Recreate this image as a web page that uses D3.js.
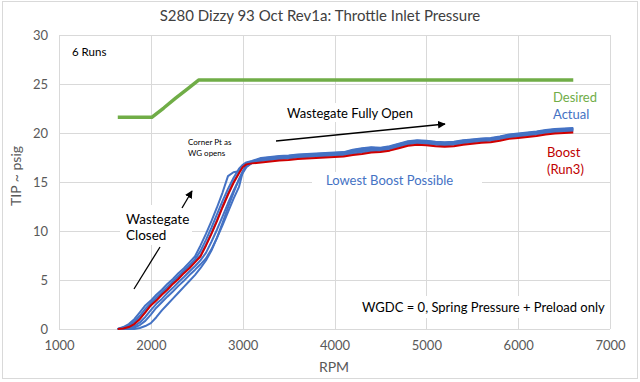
<!DOCTYPE html>
<html><head><meta charset="utf-8">
<script src="https://cdn.jsdelivr.net/npm/d3@7/dist/d3.min.js"></script>
<style>
body{margin:0;background:#fff;}
text{font-family:Lato,"Open Sans",sans-serif;}
</style></head>
<body><svg id="c" width="640" height="382"></svg>
<script>
// ---------- DATA ----------
const xTicks = [1000, 2000, 3000, 4000, 5000, 6000, 7000];
const yTicks = [0, 5, 10, 15, 20, 25, 30];

const desiredRpm = [1640, 2010, 2140, 2270, 2400, 2520, 3000, 4000, 5000, 6000, 6600];
const desired    = [21.6, 21.6, 22.55, 23.55, 24.5, 25.4, 25.4, 25.4, 25.4, 25.4, 25.4];

const rpm = [1640,1700,1760,1820,1880,1940,2000,2060,2120,2180,2240,2300,2360,2420,2480,2540,2600,2660,2720,2780,2840,2900,2960,3000,3040,3100,
  3200,3300,3400,3500,3600,3700,3800,3900,4000,4100,4200,4300,4400,4500,4600,4700,4800,4900,5000,5100,5200,5300,5400,5500,5600,5700,5800,5900,6000,6100,6200,6300,6400,6500,6600];

const boostRun3 = [0,0.05,0.2,0.5,1.0,1.7,2.4,2.9,3.5,4.0,4.6,5.1,5.7,6.2,6.8,7.4,8.5,9.7,11.0,12.4,13.7,14.9,15.9,16.5,16.8,16.9,
  17.0,17.1,17.2,17.25,17.35,17.4,17.45,17.5,17.55,17.6,17.75,17.85,18.0,18.05,18.2,18.45,18.7,18.8,18.75,18.65,18.6,18.65,18.8,18.9,19.0,19.05,19.2,19.4,19.5,19.6,19.7,19.85,19.95,20.0,20.05];

const actualRun1 = [0,0.12,0.35,0.75,1.35,2.05,2.65,3.2,3.75,4.3,4.85,5.4,5.95,6.5,7.1,7.95,9.1,10.35,11.7,13.05,14.3,15.4,16.35,16.75,16.95,17.1,
  17.35,17.45,17.5,17.6,17.7,17.75,17.8,17.85,17.9,17.95,18.15,18.3,18.4,18.4,18.55,18.8,19.05,19.15,19.1,19.0,18.95,19.0,19.15,19.25,19.35,19.4,19.55,19.75,19.85,19.95,20.05,20.2,20.3,20.35,20.4];
const actualRun2 = [0,0,0.1,0.3,0.67,1.23,1.93,2.57,3.07,3.67,4.2,4.77,5.3,5.87,6.4,7.0,7.77,8.9,10.13,11.47,12.83,14.1,15.23,15.9,16.5,16.95,
  17.25,17.35,17.45,17.5,17.6,17.65,17.7,17.75,17.8,17.85,18.05,18.15,18.3,18.3,18.45,18.7,18.95,19.05,19.0,18.9,18.85,18.9,19.05,19.15,19.25,19.3,19.45,19.65,19.75,19.85,19.95,20.1,20.2,20.25,20.3];
const actualRun3 = [0,0.1,0.3,0.6,1.1,1.75,2.5,3.0,3.6,4.1,4.7,5.2,5.8,6.3,6.9,7.5,8.6,9.8,11.1,12.5,13.8,15.0,16.0,16.6,16.9,17.0,
  17.15,17.25,17.35,17.4,17.5,17.55,17.6,17.65,17.7,17.75,17.9,18.0,18.15,18.2,18.35,18.6,18.85,18.95,18.9,18.8,18.75,18.8,18.95,19.05,19.15,19.2,19.35,19.55,19.65,19.75,19.85,20.0,20.1,20.15,20.2];
const actualRun4 = [0,0,0,0.15,0.4,0.83,1.47,2.17,2.73,3.3,3.83,4.4,4.93,5.5,6.03,6.6,7.2,8.13,9.3,10.57,11.93,13.27,14.5,16.0,16.6,16.95,
  17.4,17.5,17.6,17.65,17.75,17.8,17.85,17.9,17.95,18.0,18.25,18.4,18.5,18.45,18.6,18.85,19.1,19.2,19.15,19.05,19.0,19.05,19.2,19.3,19.4,19.45,19.6,19.8,19.9,20.0,20.1,20.25,20.35,20.4,20.45];
const actualRun5 = [0,0,0,0,0.1,0.3,0.6,1.2,1.9,2.5,3.1,3.7,4.3,4.9,5.5,6.2,7.0,8.0,9.3,10.8,12.4,13.9,15.3,16.1,16.7,16.95,
  17.3,17.4,17.5,17.55,17.65,17.7,17.75,17.8,17.85,17.9,18.1,18.25,18.35,18.35,18.5,18.75,19.0,19.1,19.05,18.95,18.9,18.95,19.1,19.2,19.3,19.35,19.5,19.7,19.8,19.9,20.0,20.15,20.25,20.3,20.35];
const actualRun6 = [0,0.2,0.5,1.0,1.7,2.4,2.9,3.5,4.0,4.6,5.1,5.7,6.2,6.8,7.4,8.5,9.7,11.0,12.4,13.9,15.6,16.0,16.1,16.7,17.0,17.15,
  17.45,17.55,17.65,17.7,17.8,17.85,17.9,17.95,18.0,18.05,18.3,18.45,18.55,18.5,18.65,18.9,19.15,19.25,19.2,19.1,19.05,19.1,19.25,19.35,19.45,19.5,19.65,19.85,19.95,20.05,20.15,20.3,20.4,20.45,20.5];
const actualRuns = [actualRun1, actualRun2, actualRun3, actualRun4, actualRun5, actualRun6];

// ---------- CHART ----------
const svg = d3.select("#c");
const x = d3.scaleLinear().domain([1000, 7000]).range([59, 610]);
const y = d3.scaleLinear().domain([0, 30]).range([329, 35]);
const GRID = "#d9d9d9", AXT = "#595959";

svg.append("rect").attr("x", 2.5).attr("y", 1.5).attr("width", 635).attr("height", 377)
  .attr("fill", "#fff").attr("stroke", "#d9d9d9");

// gridlines
const gy = svg.append("g").attr("transform", "translate(59,0)")
  .call(d3.axisLeft(y).tickValues(yTicks).tickSize(-(610 - 59)).tickFormat(""));
const gx = svg.append("g").attr("transform", "translate(0,35)")
  .call(d3.axisBottom(x).tickValues(xTicks).tickSize(329 - 35).tickFormat(""));
[gy, gx].forEach(g => { g.select(".domain").remove(); g.selectAll("line").attr("stroke", GRID).attr("shape-rendering", "crispEdges"); });

// tick labels
const ly = svg.append("g").attr("transform", "translate(59,0)")
  .call(d3.axisLeft(y).tickValues(yTicks).tickSize(0).tickPadding(11).tickFormat(d3.format("d")));
const lx = svg.append("g").attr("transform", "translate(0,329)")
  .call(d3.axisBottom(x).tickValues(xTicks).tickSize(0).tickPadding(12).tickFormat(d3.format("d")));
[ly, lx].forEach(g => { g.select(".domain").remove(); g.selectAll("text").attr("fill", AXT).style("font-size", "13px").style("font-family", "Lato"); });

// series
const line = d3.line().x(d => x(d[0])).y(d => y(d[1]));
svg.append("path").datum(desiredRpm.map((r, i) => [r, desired[i]]))
  .attr("d", line).attr("fill", "none").attr("stroke", "#70ad47").attr("stroke-width", 3.5).attr("stroke-linejoin", "round");
actualRuns.forEach(run => {
  svg.append("path").datum(rpm.map((r, i) => [r, run[i]]))
    .attr("d", line).attr("fill", "none").attr("stroke", "#4472c4").attr("stroke-width", 2).attr("stroke-linejoin", "round");
});
svg.append("path").datum(rpm.map((r, i) => [r, boostRun3[i]]))
  .attr("d", line).attr("fill", "none").attr("stroke", "#d00000").attr("stroke-width", 2).attr("stroke-linejoin", "round");

// titles
svg.append("text").attr("x", 320).attr("y", 21).attr("text-anchor", "middle")
  .attr("fill", "#404040").style("font-size", "15px").text("S280 Dizzy 93 Oct Rev1a: Throttle Inlet Pressure");
svg.append("text").attr("x", 334).attr("y", 372).attr("text-anchor", "middle")
  .attr("fill", AXT).style("font-size", "14px").text("RPM");
svg.append("text").attr("transform", "translate(21,176) rotate(-90)").attr("text-anchor", "middle")
  .attr("fill", AXT).style("font-size", "14px").text("TIP ~ psig");

// annotations
svg.append("defs").append("marker").attr("id", "ah").attr("viewBox", "0 0 10 10")
  .attr("refX", 9).attr("refY", 5).attr("markerWidth", 6).attr("markerHeight", 6).attr("orient", "auto")
  .append("path").attr("d", "M0,0 L10,5 L0,10 z").attr("fill", "#000");

function box(x0, y0, w, h) { svg.append("rect").attr("x", x0).attr("y", y0).attr("width", w).attr("height", h).attr("fill", "#fff"); }
function txt(tx, ty, s, size, col, anchor) {
  svg.append("text").attr("x", tx).attr("y", ty).attr("fill", col || "#000").attr("text-anchor", anchor || "start")
    .style("font-size", size + "px").text(s);
}
box(120, 205, 72, 40);
box(312, 172, 170, 18);
box(355, 296, 245, 22);
box(282, 103, 126, 19);

txt(72, 56, "6 Runs", 11.5, "#000");
txt(287, 118, "Wastegate Fully Open", 13, "#000");
svg.append("line").attr("x1", 276).attr("y1", 141).attr("x2", 445).attr("y2", 124)
  .attr("stroke", "#000").attr("stroke-width", 1.3).attr("marker-end", "url(#ah)");
txt(188, 145, "Corner Pt as", 8, "#000");
txt(188, 156, "WG opens", 8, "#000");
svg.append("line").attr("x1", 182).attr("y1", 208).attr("x2", 192).attr("y2", 191)
  .attr("stroke", "#000").attr("stroke-width", 1.3).attr("marker-end", "url(#ah)");
txt(126, 224, "Wastegate", 13.5, "#000");
txt(126, 240, "Closed", 13.5, "#000");
svg.append("line").attr("x1", 160).attr("y1", 247).attr("x2", 134).attr("y2", 289)
  .attr("stroke", "#000").attr("stroke-width", 1.3);
txt(326, 185, "Lowest Boost Possible", 13, "#4472c4");
txt(553, 102, "Desired", 13, "#70ad47");
txt(553, 119, "Actual", 13, "#4472c4");
txt(547, 157, "Boost", 13, "#c00000");
txt(547, 174, "(Run3)", 13, "#c00000");
txt(362, 312, "WGDC = 0, Spring Pressure + Preload only", 13, "#000");
</script></body></html>
